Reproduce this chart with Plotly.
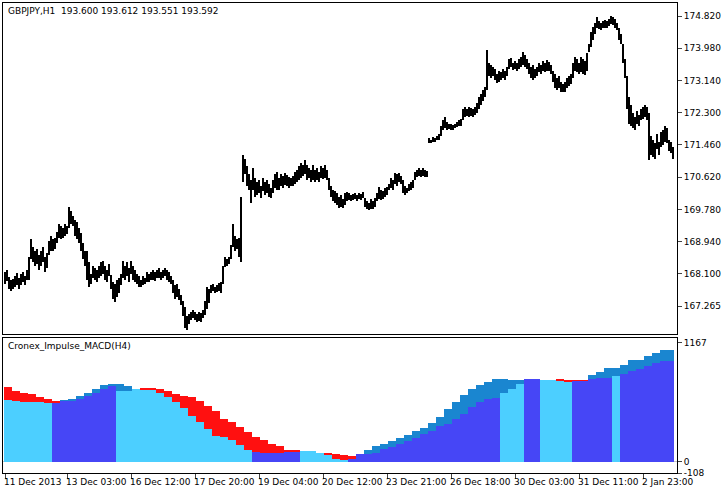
import numpy as np
import plotly.graph_objects as go

highs = [168.15,168.20,168.02,167.95,167.98,168.05,168.12,168.00,168.10,168.15,168.05,168.20,168.55,169.00,168.80,168.70,168.75,168.60,168.70,168.80,
168.55,168.65,168.95,169.10,169.00,169.05,169.20,169.40,169.35,169.30,169.40,169.35,169.85,169.75,169.60,169.50,169.45,169.30,169.17,168.90,
168.70,168.70,168.40,168.10,168.30,168.25,168.20,168.30,168.40,168.45,168.30,168.20,168.35,168.07,167.90,167.85,167.95,168.00,168.10,168.45,
168.30,168.40,168.25,168.45,168.30,168.20,168.10,168.05,167.95,168.05,168.00,168.15,168.10,168.15,168.20,168.15,168.20,168.25,168.15,168.20,
168.25,168.20,168.15,168.05,167.94,167.80,167.85,167.70,167.55,167.40,167.24,167.00,167.05,167.10,167.16,167.10,167.05,167.12,167.08,167.15,
167.40,167.76,167.70,167.80,167.85,167.75,167.80,167.87,167.90,168.30,168.54,168.50,168.54,168.85,169.40,169.10,169.00,169.05,170.10,171.20,
171.10,170.90,170.70,170.55,170.86,170.60,170.50,170.55,170.40,170.60,170.50,170.55,170.45,170.35,170.55,170.70,170.76,170.60,170.70,170.65,
170.72,170.68,170.62,170.60,170.66,170.75,170.80,170.90,171.00,170.95,171.07,170.95,170.85,170.80,170.94,170.80,170.85,170.75,170.90,170.85,
170.94,170.80,170.60,170.40,170.30,170.25,170.20,170.10,170.15,170.05,170.20,170.24,170.20,170.15,170.18,170.20,170.15,170.22,170.18,170.24,
170.08,170.00,169.95,170.05,170.00,170.08,170.20,170.37,170.30,170.25,170.33,170.37,170.45,170.60,170.55,170.73,170.70,170.72,170.65,170.55,
170.40,170.35,170.45,170.50,170.55,170.75,170.80,170.86,170.82,170.85,170.80,170.78,171.65,171.60,171.68,171.65,171.70,171.75,171.95,172.10,
172.20,172.05,172.00,172.00,171.98,172.00,172.05,172.10,172.15,172.40,172.45,172.40,172.45,172.42,172.40,172.45,172.55,172.70,172.80,172.90,
172.97,173.93,173.60,173.55,173.50,173.45,173.30,173.40,173.35,173.45,173.40,173.50,173.70,173.72,173.60,173.65,173.60,173.70,173.75,173.88,
173.80,173.70,173.60,173.50,173.55,173.45,173.50,173.60,173.55,173.65,173.60,173.67,173.62,173.55,173.40,173.30,173.20,173.25,173.10,173.05,
173.10,173.20,173.25,173.30,173.60,173.75,173.70,173.60,173.75,173.70,173.65,173.85,174.10,174.40,174.53,174.65,174.80,174.70,174.65,174.68,
174.72,174.70,174.75,174.82,174.80,174.75,174.65,174.50,174.35,174.10,173.70,173.25,172.70,172.50,172.30,172.20,172.35,172.25,172.40,172.45,
172.50,172.45,172.30,171.70,171.60,171.50,171.75,171.55,171.80,171.85,171.95,171.90,171.60,171.55,171.40]
lows = [167.85,167.92,167.72,167.65,167.70,167.75,167.80,167.70,167.82,167.88,167.80,167.95,167.95,168.50,168.40,168.30,168.35,168.20,168.30,168.40,
168.15,168.25,168.60,168.70,168.70,168.75,168.90,169.05,169.00,169.05,169.10,169.15,169.30,169.40,169.35,169.10,169.00,168.90,168.70,168.50,
168.30,167.95,167.76,167.85,168.00,167.95,167.90,168.00,168.05,168.10,167.95,167.90,168.05,167.70,167.45,167.37,167.50,167.60,167.80,168.00,
167.95,168.05,167.90,168.10,167.95,167.90,167.85,167.75,167.75,167.80,167.85,167.90,167.90,167.95,167.95,167.92,168.00,168.00,167.95,168.00,
168.05,167.95,167.90,167.85,167.60,167.45,167.50,167.42,167.30,167.00,166.70,166.64,166.80,166.90,166.95,166.90,166.85,166.88,166.85,166.95,
167.03,167.20,167.35,167.60,167.65,167.60,167.62,167.65,167.60,167.85,168.28,168.30,168.35,168.50,168.80,168.70,168.75,168.55,168.40,170.50,
170.70,170.40,170.30,169.95,170.30,170.10,170.15,170.20,170.08,170.25,170.15,170.20,170.10,170.08,170.20,170.35,170.30,170.29,170.40,170.35,
170.42,170.40,170.35,170.38,170.40,170.45,170.50,170.55,170.60,170.65,170.70,170.55,170.60,170.50,170.55,170.50,170.55,170.50,170.60,170.58,
170.60,170.55,170.30,170.10,170.00,169.95,169.90,169.82,169.85,169.82,169.90,170.00,170.03,170.00,170.03,170.05,170.00,170.05,170.03,170.08,
169.85,169.80,169.77,169.80,169.78,169.85,170.00,170.05,170.03,170.05,170.10,170.15,170.30,170.35,170.30,170.45,170.40,170.50,170.45,170.20,
170.15,170.20,170.25,170.30,170.35,170.55,170.63,170.65,170.63,170.65,170.62,170.63,171.52,171.52,171.55,171.55,171.58,171.60,171.70,171.85,
171.90,171.85,171.88,171.85,171.85,171.90,171.92,171.95,171.95,172.10,172.20,172.22,172.20,172.22,172.20,172.25,172.30,172.40,172.50,172.60,
172.70,172.90,173.25,173.20,173.25,173.15,173.07,173.10,173.15,173.20,173.15,173.25,173.45,173.50,173.42,173.45,173.40,173.45,173.50,173.55,
173.50,173.45,173.30,173.20,173.15,173.20,173.25,173.35,173.30,173.40,173.35,173.40,173.38,173.30,173.10,172.95,172.90,172.95,172.84,172.85,
172.84,172.95,173.00,173.05,173.20,173.40,173.35,173.30,173.35,173.30,173.28,173.40,173.88,174.00,174.20,174.35,174.50,174.48,174.46,174.50,
174.52,174.50,174.55,174.60,174.58,174.50,174.46,174.20,174.10,173.60,173.20,172.40,172.00,171.95,171.90,171.85,172.00,171.95,172.10,172.15,
172.20,172.10,171.07,171.20,171.15,171.10,171.35,171.20,171.40,171.45,171.55,171.50,171.30,171.25,171.10]

# H4 indicator steps (each spans 4 H1 bars): top of back layer, its colour, top of front layer, its colour
back_top = [739,697,680,664,632,616,599,605,616,648,680,713,755,768,761,745,719,719,719,713,697,664,645,632,599,550,502,421,389,340,
292,243,211,178,156,113,113,104,104,91,91,81,71,58,81,113,156,172,201,233,266,308,337,382,437,518,590,654,713,752,
784,817,810,804,800,810,810,804,804,810,800,800,795,849,881,917,917,949,995,1004,1043,1069,1102,1102]
back_col = ["r","r","r","r","r","r","r","g","g","g","g","g","g","g","g","g","r","r","r","r","r","r","r","r","r","r","r","r","r","r",
"r","r","r","r","r","r","r","g","g","c","r","r","r","r","g","g","g","g","g","g","g","g","g","g","g","g","g","g","g","g",
"g","g","g","g","g","b","b","c","c","r","r","r","r","g","g","g","g","g","g","g","g","g","g","g"]
front_top = [606,599,590,590,590,580,577,599,599,616,648,680,713,745,700,700,719,706,706,680,638,583,525,454,389,324,259,243,211,162,
113,97,88,88,88,97,97,104,104,91,65,32,16,26,81,81,91,123,146,178,201,237,275,308,356,373,421,470,535,583,
616,630,680,713,761,810,810,804,804,795,787,790,790,810,826,826,842,859,891,914,940,972,988,988]
front_col = ["c","c","c","c","c","c","b","b","b","b","b","b","b","b","c","c","c","c","c","c","c","c","c","c","c","c","c","c","c","c",
"c","b","b","b","b","b","b","c","c","c","c","c","c","b","b","b","b","b","b","b","b","b","b","b","b","b","b","b","b","b",
"b","b","c","c","c","b","b","c","c","c","c","b","b","b","b","b","c","b","b","b","b","b","b","b"]

tick_idx = [0,31,63,95,127,159,191,223,255,287,319]
tick_lab = ["11 Dec 2013","13 Dec 03:00","16 Dec 12:00","17 Dec 20:00","19 Dec 04:00","20 Dec 12:00",
            "23 Dec 21:00","26 Dec 18:00","30 Dec 03:00","31 Dec 11:00","2 Jan 23:00"]
price_ticks = [174.820,173.980,173.140,172.300,171.460,170.620,169.780,168.940,168.100,167.265]
price_labels = ["174.820","173.980","173.140","172.300","171.460","170.620","169.780","168.940","168.100","167.265"]

n = len(highs)
x = np.arange(n)
bt = np.repeat(back_top, 4)[:n]
ft = np.repeat(front_top, 4)[:n]
bc = np.repeat(back_col, 4)[:n]
fc = np.repeat(front_col, 4)[:n]
# colours approximate the 1px stripe look of the original histogram
cmap = {"r": "#FF1010", "g": "#1A86D0", "c": "#4CCFFF", "b": "#4646F6"}

fig = go.Figure()
fig.add_trace(go.Bar(x=x, y=np.array(highs) - np.array(lows), base=lows, width=0.38,
                     marker=dict(color="black", line_width=0), xaxis="x", yaxis="y"))
fig.add_trace(go.Bar(x=x, y=bt - ft, base=ft, width=1.0,
                     marker=dict(color=[cmap[c] for c in bc], line_width=0), xaxis="x2", yaxis="y2"))
fig.add_trace(go.Bar(x=x, y=ft, base=0, width=0.38,
                     marker=dict(color=[cmap[c] for c in fc], line_width=0), xaxis="x2", yaxis="y2"))

F = dict(family="DejaVu Sans", size=9, color="black")
xr = [-1, 336]
X0, X1 = 3/728, 677/728
fig.update_layout(
    width=728, height=494, margin=dict(l=0, r=0, t=0, b=0, autoexpand=False), showlegend=False,
    paper_bgcolor="white", plot_bgcolor="white", barmode="overlay", bargap=0, font=F,
    xaxis=dict(domain=[X0, X1], range=xr, showticklabels=False, showgrid=False, zeroline=False,
               showline=True, mirror=True, linecolor="black", linewidth=1, anchor="y", automargin=False),
    yaxis=dict(domain=[160/494, 491/494], range=[166.536, 175.159], side="right", tickvals=price_ticks,
               ticktext=price_labels, ticks="outside", ticklen=4, showgrid=False, zeroline=False,
               showline=True, mirror=True, linecolor="black", linewidth=1, anchor="x", tickfont=F,
               automargin=False),
    xaxis2=dict(domain=[X0, X1], range=xr, tickvals=tick_idx, ticktext=[""]*len(tick_idx),
                ticks="outside", ticklen=5, showgrid=False, zeroline=False, automargin=False,
                showline=True, mirror=True, linecolor="black", linewidth=1, anchor="y2"),
    yaxis2=dict(domain=[21/494, 156/494], range=[-108, 1215], side="right", tickvals=[1167, 0, -108],
                ticktext=["1167", "0", "-108"], ticks="outside", ticklen=4, showgrid=False,
                zeroline=True, zerolinecolor="#C8C8C8", zerolinewidth=1, automargin=False,
                showline=True, mirror=True, linecolor="black", linewidth=1, anchor="x2", tickfont=F),
)
ann = [dict(text="GBPJPY,H1  193.600 193.612 193.551 193.592", xref="paper", yref="paper",
            x=6/728, y=490/494, xanchor="left", yanchor="top", showarrow=False, font=F),
       dict(text="Cronex_Impulse_MACD(H4)", xref="paper", yref="paper",
            x=6/728, y=155/494, xanchor="left", yanchor="top", showarrow=False, font=F)]
for i, t in zip(tick_idx, tick_lab):
    px = X0 + (X1 - X0) * (i - 1.5 - xr[0]) / (xr[1] - xr[0])
    ann.append(dict(text=t, xref="paper", yref="paper", x=px, y=19/494, xanchor="left",
                    yanchor="top", showarrow=False, font=F))
fig.update_layout(annotations=ann)
fig.write_html("out.html", config={"displayModeBar": False},
               post_script="document.body.style.margin='0';document.body.style.overflow='hidden';")
